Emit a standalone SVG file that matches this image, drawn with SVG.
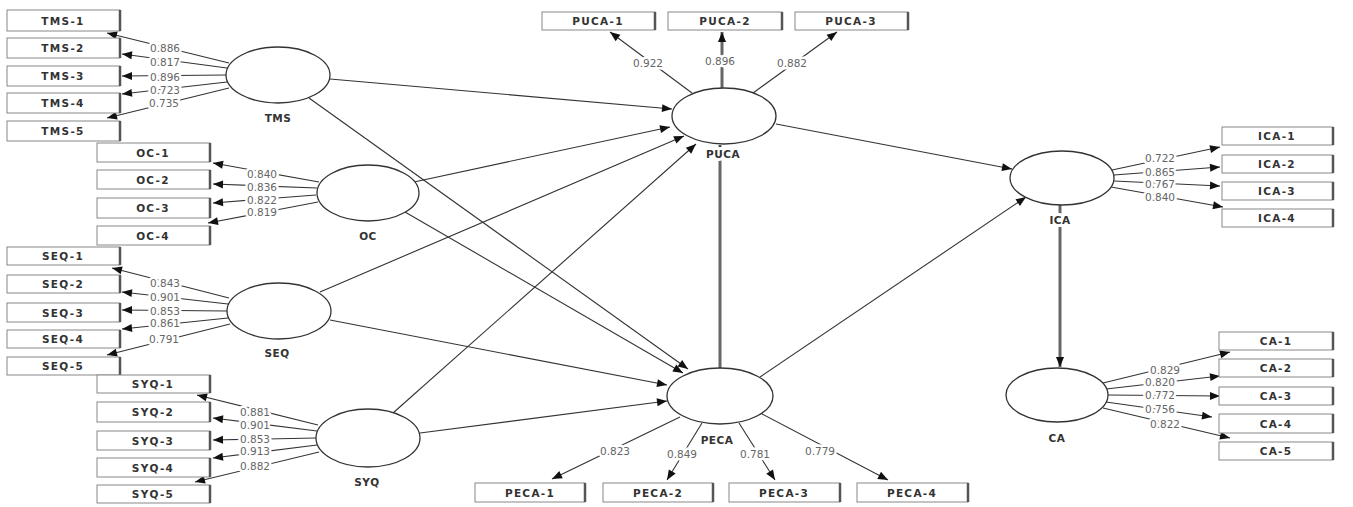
<svg xmlns="http://www.w3.org/2000/svg" width="1353" height="507" viewBox="0 0 1353 507">
<defs>
<style>
.bg{fill:#fff}
.box rect{fill:#fff;stroke:#888;stroke-width:1}
.box line{stroke:#555;stroke-width:2.5}
.box text{font-family:"DejaVu Sans",sans-serif;font-size:10.5px;font-weight:bold;fill:#333;text-anchor:middle;letter-spacing:1.3px}
.lv ellipse{fill:#fff;stroke:#333;stroke-width:1.3}
.lv text{font-family:"DejaVu Sans",sans-serif;font-size:10.5px;font-weight:bold;fill:#333;text-anchor:middle;letter-spacing:0.5px;paint-order:stroke;stroke:#fff;stroke-width:6px;stroke-linejoin:round}
.e{stroke:#333;stroke-width:1.1;fill:none;marker-end:url(#ah)}
.t{stroke:#666;stroke-width:3;fill:none;marker-end:url(#ah)}
.w{font-family:"DejaVu Sans",sans-serif;font-size:10.5px;fill:#666;text-anchor:middle;paint-order:stroke;stroke:#fff;stroke-width:5px;stroke-linejoin:round}
</style>
<marker id="ah" markerUnits="userSpaceOnUse" markerWidth="11" markerHeight="9" refX="10" refY="4" orient="auto" overflow="visible">
<path d="M0,0 L10,4 L0,8 z" fill="#111"/>
</marker>
</defs>
<rect class="bg" x="0" y="0" width="1353" height="507"/>

<g id="connectors">
<line class="e" x1="229" y1="63" x2="107" y2="33"/>
<line class="e" x1="227" y1="68" x2="122" y2="54"/>
<line class="e" x1="226" y1="75" x2="122" y2="76"/>
<line class="e" x1="227" y1="82" x2="122" y2="94"/>
<line class="e" x1="229" y1="88" x2="107" y2="118"/>
<line class="e" x1="319" y1="182" x2="213" y2="163"/>
<line class="e" x1="317" y1="188" x2="213" y2="184"/>
<line class="e" x1="316" y1="195" x2="213" y2="203"/>
<line class="e" x1="318" y1="202" x2="208" y2="223"/>
<line class="e" x1="229" y1="298" x2="112" y2="268"/>
<line class="e" x1="228" y1="304" x2="122" y2="292"/>
<line class="e" x1="227" y1="311" x2="122" y2="310"/>
<line class="e" x1="228" y1="318" x2="122" y2="329"/>
<line class="e" x1="230" y1="324" x2="107" y2="355"/>
<line class="e" x1="318" y1="425" x2="197" y2="395"/>
<line class="e" x1="317" y1="431" x2="213" y2="418"/>
<line class="e" x1="316" y1="438" x2="213" y2="440"/>
<line class="e" x1="317" y1="445" x2="213" y2="458"/>
<line class="e" x1="319" y1="452" x2="195" y2="482"/>
<line class="e" x1="692" y1="93" x2="610" y2="32"/>
<line class="t" x1="722" y1="88" x2="722" y2="32"/>
<line class="e" x1="753" y1="93" x2="837" y2="32"/>
<line class="e" x1="680" y1="417" x2="552" y2="479"/>
<line class="e" x1="702" y1="423" x2="667" y2="480"/>
<line class="e" x1="739" y1="423" x2="775" y2="480"/>
<line class="e" x1="762" y1="414" x2="888" y2="480"/>
<line class="e" x1="1112" y1="170" x2="1220" y2="147"/>
<line class="e" x1="1114" y1="175" x2="1220" y2="167"/>
<line class="e" x1="1114" y1="181" x2="1220" y2="186"/>
<line class="e" x1="1111" y1="187" x2="1223" y2="207"/>
<line class="e" x1="1103" y1="383" x2="1230" y2="352"/>
<line class="e" x1="1106" y1="389" x2="1220" y2="376"/>
<line class="e" x1="1108" y1="395" x2="1220" y2="396"/>
<line class="e" x1="1106" y1="402" x2="1212" y2="417"/>
<line class="e" x1="1103" y1="408" x2="1230" y2="438"/>
<line class="e" x1="330" y1="79" x2="672" y2="109"/>
<line class="e" x1="414" y1="182" x2="670" y2="127"/>
<line class="e" x1="320" y1="292" x2="684" y2="136"/>
<line class="e" x1="393" y1="413" x2="696" y2="144"/>
<line class="t" x1="720" y1="368" x2="720" y2="145"/>
<line class="e" x1="309" y1="98" x2="688" y2="369"/>
<line class="e" x1="405" y1="212" x2="683" y2="373"/>
<line class="e" x1="330" y1="320" x2="667" y2="385"/>
<line class="e" x1="420" y1="433" x2="667" y2="401"/>
<line class="e" x1="776" y1="124" x2="1012" y2="169"/>
<line class="e" x1="760" y1="377" x2="1026" y2="197"/>
<line class="t" x1="1060" y1="205" x2="1060" y2="367"/>
</g>

<g id="loadings">
<text class="w" x="165" y="52">0.886</text>
<text class="w" x="165" y="66">0.817</text>
<text class="w" x="165" y="81">0.896</text>
<text class="w" x="165" y="94">0.723</text>
<text class="w" x="164" y="107">0.735</text>
<text class="w" x="262" y="178">0.840</text>
<text class="w" x="262" y="191">0.836</text>
<text class="w" x="262" y="204">0.822</text>
<text class="w" x="262" y="216">0.819</text>
<text class="w" x="165" y="287">0.843</text>
<text class="w" x="165" y="301">0.901</text>
<text class="w" x="165" y="315">0.853</text>
<text class="w" x="165" y="327">0.861</text>
<text class="w" x="164" y="343">0.791</text>
<text class="w" x="255" y="416">0.881</text>
<text class="w" x="255" y="429">0.901</text>
<text class="w" x="255" y="443">0.853</text>
<text class="w" x="255" y="455">0.913</text>
<text class="w" x="255" y="470">0.882</text>
<text class="w" x="648" y="67">0.922</text>
<text class="w" x="720" y="65">0.896</text>
<text class="w" x="792" y="67">0.882</text>
<text class="w" x="615" y="455">0.823</text>
<text class="w" x="682" y="458">0.849</text>
<text class="w" x="755" y="458">0.781</text>
<text class="w" x="820" y="455">0.779</text>
<text class="w" x="1160" y="162">0.722</text>
<text class="w" x="1160" y="176">0.865</text>
<text class="w" x="1160" y="188">0.767</text>
<text class="w" x="1160" y="201">0.840</text>
<text class="w" x="1165" y="374">0.829</text>
<text class="w" x="1160" y="386">0.820</text>
<text class="w" x="1160" y="399">0.772</text>
<text class="w" x="1160" y="413">0.756</text>
<text class="w" x="1165" y="428">0.822</text>
</g>

<g id="TMS" class="lv"><ellipse cx="278" cy="75" rx="52" ry="28"/><text x="278" y="122">TMS</text></g>
<g id="OC" class="lv"><ellipse cx="368" cy="193" rx="51" ry="28"/><text x="368" y="240">OC</text></g>
<g id="SEQ" class="lv"><ellipse cx="279" cy="311" rx="52" ry="28"/><text x="277" y="357">SEQ</text></g>
<g id="SYQ" class="lv"><ellipse cx="368" cy="438" rx="52" ry="29"/><text x="367" y="486">SYQ</text></g>
<g id="PUCA" class="lv"><ellipse cx="724" cy="116" rx="52" ry="28"/><text x="723" y="158">PUCA</text></g>
<g id="PECA" class="lv"><ellipse cx="720" cy="396" rx="53" ry="28"/><text x="717" y="444">PECA</text></g>
<g id="ICA" class="lv"><ellipse cx="1062" cy="178" rx="52" ry="27"/><text x="1060" y="224">ICA</text></g>
<g id="CA" class="lv"><ellipse cx="1057" cy="395" rx="51" ry="27"/><text x="1057" y="442">CA</text></g>

<g id="TMS-1" class="box"><rect x="7" y="10" width="113" height="21"/><line x1="120" y1="10" x2="120" y2="31"/><text x="63" y="24.5">TMS-1</text></g>
<g id="TMS-2" class="box"><rect x="7" y="38" width="113" height="20"/><line x1="120" y1="38" x2="120" y2="58"/><text x="63" y="52">TMS-2</text></g>
<g id="TMS-3" class="box"><rect x="7" y="66" width="113" height="20"/><line x1="120" y1="66" x2="120" y2="86"/><text x="63" y="80">TMS-3</text></g>
<g id="TMS-4" class="box"><rect x="7" y="93" width="113" height="20"/><line x1="120" y1="93" x2="120" y2="113"/><text x="63" y="107">TMS-4</text></g>
<g id="TMS-5" class="box"><rect x="7" y="121" width="113" height="20"/><line x1="120" y1="121" x2="120" y2="141"/><text x="63" y="135">TMS-5</text></g>

<g id="OC-1" class="box"><rect x="97" y="143" width="113" height="19"/><line x1="210" y1="143" x2="210" y2="162"/><text x="153" y="156.5">OC-1</text></g>
<g id="OC-2" class="box"><rect x="97" y="170" width="113" height="19"/><line x1="210" y1="170" x2="210" y2="189"/><text x="153" y="183.5">OC-2</text></g>
<g id="OC-3" class="box"><rect x="97" y="198" width="113" height="20"/><line x1="210" y1="198" x2="210" y2="218"/><text x="153" y="212">OC-3</text></g>
<g id="OC-4" class="box"><rect x="97" y="226" width="113" height="19"/><line x1="210" y1="226" x2="210" y2="245"/><text x="153" y="239.5">OC-4</text></g>

<g id="SEQ-1" class="box"><rect x="7" y="247" width="113" height="18"/><line x1="120" y1="247" x2="120" y2="265"/><text x="63" y="260">SEQ-1</text></g>
<g id="SEQ-2" class="box"><rect x="7" y="275" width="113" height="18"/><line x1="120" y1="275" x2="120" y2="293"/><text x="63" y="288">SEQ-2</text></g>
<g id="SEQ-3" class="box"><rect x="7" y="303" width="113" height="19"/><line x1="120" y1="303" x2="120" y2="322"/><text x="63" y="316.5">SEQ-3</text></g>
<g id="SEQ-4" class="box"><rect x="7" y="330" width="113" height="18"/><line x1="120" y1="330" x2="120" y2="348"/><text x="63" y="343">SEQ-4</text></g>
<g id="SEQ-5" class="box"><rect x="7" y="357" width="113" height="18"/><line x1="120" y1="357" x2="120" y2="375"/><text x="63" y="370">SEQ-5</text></g>

<g id="SYQ-1" class="box"><rect x="97" y="375" width="113" height="18"/><line x1="210" y1="375" x2="210" y2="393"/><text x="153" y="388">SYQ-1</text></g>
<g id="SYQ-2" class="box"><rect x="97" y="402" width="113" height="20"/><line x1="210" y1="402" x2="210" y2="422"/><text x="153" y="416">SYQ-2</text></g>
<g id="SYQ-3" class="box"><rect x="97" y="431" width="113" height="19"/><line x1="210" y1="431" x2="210" y2="450"/><text x="153" y="444.5">SYQ-3</text></g>
<g id="SYQ-4" class="box"><rect x="97" y="458" width="113" height="19"/><line x1="210" y1="458" x2="210" y2="477"/><text x="153" y="471.5">SYQ-4</text></g>
<g id="SYQ-5" class="box"><rect x="97" y="485" width="113" height="18"/><line x1="210" y1="485" x2="210" y2="503"/><text x="153" y="498">SYQ-5</text></g>

<g id="PUCA-1" class="box"><rect x="542" y="12" width="113" height="18"/><line x1="655" y1="12" x2="655" y2="30"/><text x="598" y="25">PUCA-1</text></g>
<g id="PUCA-2" class="box"><rect x="668" y="12" width="114" height="18"/><line x1="782" y1="12" x2="782" y2="30"/><text x="725" y="25">PUCA-2</text></g>
<g id="PUCA-3" class="box"><rect x="795" y="12" width="113" height="18"/><line x1="908" y1="12" x2="908" y2="30"/><text x="851" y="25">PUCA-3</text></g>

<g id="PECA-1" class="box"><rect x="475" y="483" width="110" height="19"/><line x1="585" y1="483" x2="585" y2="502"/><text x="530" y="496.5">PECA-1</text></g>
<g id="PECA-2" class="box"><rect x="603" y="483" width="110" height="19"/><line x1="713" y1="483" x2="713" y2="502"/><text x="658" y="496.5">PECA-2</text></g>
<g id="PECA-3" class="box"><rect x="729" y="483" width="111" height="19"/><line x1="840" y1="483" x2="840" y2="502"/><text x="784" y="496.5">PECA-3</text></g>
<g id="PECA-4" class="box"><rect x="857" y="483" width="111" height="19"/><line x1="968" y1="483" x2="968" y2="502"/><text x="912" y="496.5">PECA-4</text></g>

<g id="ICA-1" class="box"><rect x="1222" y="127" width="111" height="18"/><line x1="1333" y1="127" x2="1333" y2="145"/><text x="1277" y="140">ICA-1</text></g>
<g id="ICA-2" class="box"><rect x="1222" y="155" width="111" height="18"/><line x1="1333" y1="155" x2="1333" y2="173"/><text x="1277" y="168">ICA-2</text></g>
<g id="ICA-3" class="box"><rect x="1222" y="182" width="111" height="18"/><line x1="1333" y1="182" x2="1333" y2="200"/><text x="1277" y="195">ICA-3</text></g>
<g id="ICA-4" class="box"><rect x="1222" y="209" width="111" height="18"/><line x1="1333" y1="209" x2="1333" y2="227"/><text x="1277" y="222">ICA-4</text></g>

<g id="CA-1" class="box"><rect x="1219" y="332" width="114" height="18"/><line x1="1333" y1="332" x2="1333" y2="350"/><text x="1276" y="345">CA-1</text></g>
<g id="CA-2" class="box"><rect x="1219" y="359" width="114" height="18"/><line x1="1333" y1="359" x2="1333" y2="377"/><text x="1276" y="372">CA-2</text></g>
<g id="CA-3" class="box"><rect x="1219" y="387" width="114" height="18"/><line x1="1333" y1="387" x2="1333" y2="405"/><text x="1276" y="400">CA-3</text></g>
<g id="CA-4" class="box"><rect x="1219" y="414" width="114" height="19"/><line x1="1333" y1="414" x2="1333" y2="433"/><text x="1276" y="427.5">CA-4</text></g>
<g id="CA-5" class="box"><rect x="1219" y="442" width="114" height="18"/><line x1="1333" y1="442" x2="1333" y2="460"/><text x="1276" y="455">CA-5</text></g>
</svg>
